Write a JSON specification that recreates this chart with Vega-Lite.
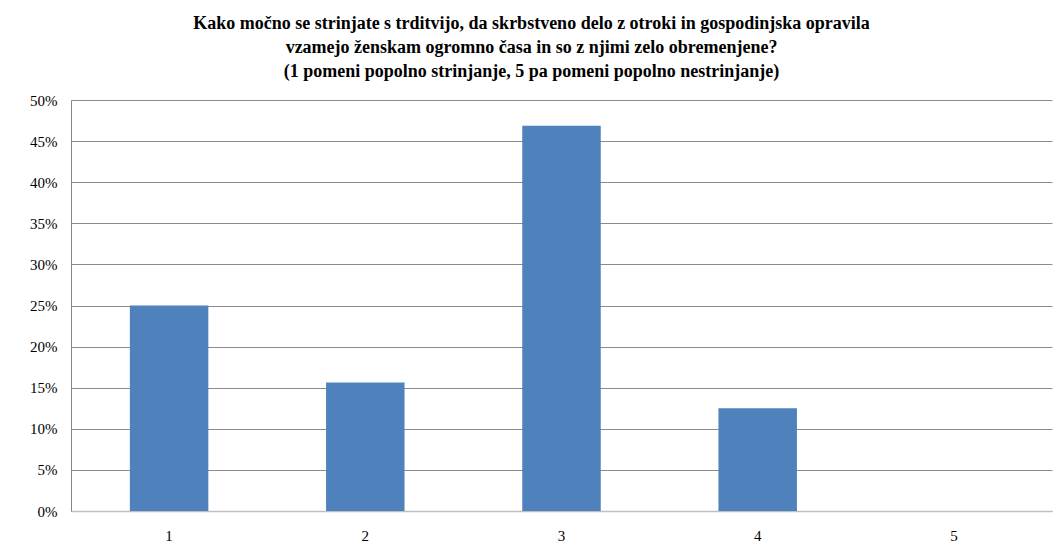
{
  "$schema": "https://vega.github.io/schema/vega-lite/v6.json",
  "autosize": {"type": "none"},
  "width": 981,
  "height": 411,
  "padding": {"left": 71, "top": 100, "right": 7, "bottom": 43},
  "background": "white",
  "title": {
    "text": ["Kako močno se strinjate s trditvijo, da skrbstveno delo z otroki in gospodinjska opravila", "vzamejo ženskam ogromno časa in so z njimi zelo obremenjene?", "(1 pomeni popolno strinjanje, 5 pa pomeni popolno nestrinjanje)"],
    "anchor": "middle",
    "frame": "group",
    "dx": -30,
    "offset": 12,
    "font": "'Liberation Serif', 'Times New Roman', serif",
    "fontSize": 18,
    "fontWeight": "bold",
    "color": "#000000",
    "lineHeight": 24
  },
  "data": {
    "values": [
      {"odgovor": "1", "delez": 0.25},
      {"odgovor": "2", "delez": 0.15625},
      {"odgovor": "3", "delez": 0.46875},
      {"odgovor": "4", "delez": 0.125},
      {"odgovor": "5", "delez": 0.0}
    ]
  },
  "mark": {"type": "bar", "color": "#4F81BD"},
  "encoding": {
    "x": {
      "field": "odgovor",
      "type": "ordinal",
      "scale": {"paddingInner": 0.6, "paddingOuter": 0.3},
      "axis": {
        "title": null,
        "labelAngle": 0,
        "ticks": false,
        "labelPadding": 17,
        "labelFont": "'Liberation Serif', 'Times New Roman', serif",
        "labelFontSize": 15,
        "labelColor": "#000000",
        "domainColor": "#bfbfbf",
        "domainWidth": 1.5,
        "grid": false
      }
    },
    "y": {
      "field": "delez",
      "type": "quantitative",
      "scale": {"domain": [0, 0.5], "nice": false},
      "axis": {
        "title": null,
        "format": ".0%",
        "values": [0, 0.05, 0.1, 0.15, 0.2, 0.25, 0.3, 0.35, 0.4, 0.45, 0.5],
        "ticks": false,
        "labelPadding": 14,
        "labelFont": "'Liberation Serif', 'Times New Roman', serif",
        "labelFontSize": 15,
        "labelColor": "#000000",
        "domainColor": "#868686",
        "grid": true,
        "gridColor": "#8c8c8c",
        "gridWidth": 1
      }
    }
  },
  "config": {
    "view": {"stroke": null}
  }
}
